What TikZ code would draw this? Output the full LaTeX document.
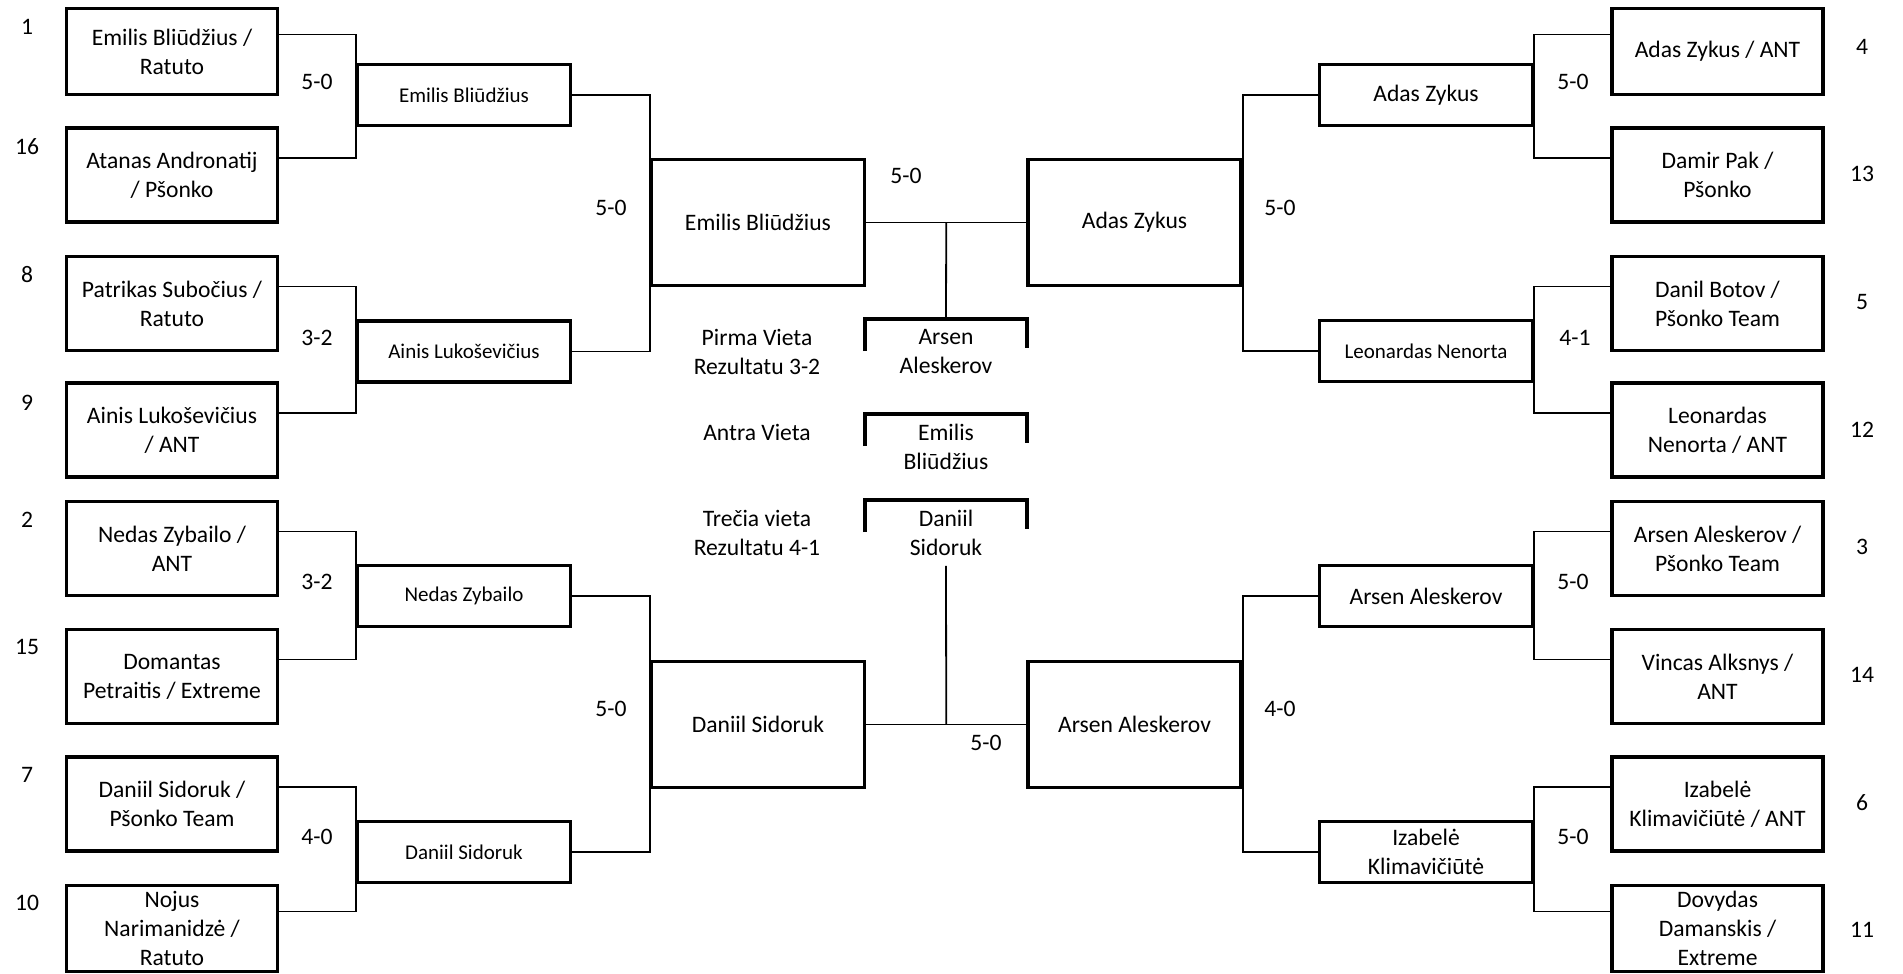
\documentclass[tikz,border=0pt]{standalone}
\usepackage{fontspec}
\setmainfont{Carlito}
\newcommand{\brfont}{\fontsize{11.8}{14.5}\selectfont}
\newcommand{\brsmall}{\fontsize{10.5}{13}\selectfont}

\begin{document}
\begin{tikzpicture}[x=0.5pt, y=-0.5pt, font=\brfont, line width=0.9pt,
	entrant/.style={draw, line width=1.7pt, minimum width=105.5pt, minimum height=47pt, inner sep=0pt, align=center},
	winner/.style={draw, line width=1.7pt, minimum width=106.5pt, minimum height=30.5pt, inner sep=0pt, align=center},
	semi/.style={draw, line width=1.7pt, minimum width=106.5pt, minimum height=63pt, inner sep=0pt, align=center},
	podium/.style={minimum width=80pt, minimum height=32pt, inner sep=0pt, align=center},
	score/.style={inner sep=0pt},
	bracket/.style={line width=1.7pt}]
	\useasboundingbox (0,0) rectangle (1903,974);
	\node[entrant, minimum height=43pt] (L1) at (172,51.5) {Emilis Bliūdžius /\\Ratuto};
	\node[entrant] (L16) at (172,175) {Atanas Andronatij\\/ Pšonko};
	\node[entrant] (L8) at (172,303.5) {Patrikas Subočius /\\Ratuto};
	\node[entrant] (L9) at (172,430) {Ainis Lukoševičius\\/ ANT};
	\node[entrant] (L2) at (172,548.5) {Nedas Zybailo /\\ANT};
	\node[entrant] (L15) at (172,676.5) {Domantas\\Petraitis / Extreme};
	\node[entrant] (L7) at (172,804) {Daniil Sidoruk /\\Pšonko Team};
	\node[entrant, minimum height=43pt] (L10) at (172,928.5) {Nojus\\Narimanidzė /\\Ratuto};
	\node[entrant, minimum height=43pt] (R4) at (1717.5,51.5) {Adas Zykus / ANT};
	\node[entrant] (R13) at (1717.5,175) {Damir Pak /\\Pšonko};
	\node[entrant] (R5) at (1717.5,303.5) {Danil Botov /\\Pšonko Team};
	\node[entrant] (R12) at (1717.5,430) {Leonardas\\Nenorta / ANT};
	\node[entrant] (R3) at (1717.5,548.5) {Arsen Aleskerov /\\Pšonko Team};
	\node[entrant] (R14) at (1717.5,676.5) {Vincas Alksnys /\\ANT};
	\node[entrant] (R6) at (1717.5,804) {Izabelė\\Klimavičiūtė / ANT};
	\node[entrant, minimum height=43pt] (R11) at (1717.5,928.5) {Dovydas\\Damanskis /\\Extreme};

	\node[winner, font=\brsmall] (LA) at (464,95) {Emilis Bliūdžius};
	\node[winner, font=\brsmall] (LB) at (464,351.5) {Ainis Lukoševičius};
	\node[winner, font=\brsmall] (LC) at (464,596) {Nedas Zybailo};
	\node[winner, font=\brsmall] (LD) at (464,852) {Daniil Sidoruk};
	\node[winner] (RA) at (1426,95) {Adas Zykus};
	\node[winner, font=\brsmall] (RB) at (1426,351) {Leonardas Nenorta};
	\node[winner] (RC) at (1426,596) {Arsen Aleskerov};
	\node[winner] (RD) at (1426,852) {Izabelė\\Klimavičiūtė};

	\node[semi] (LS1) at (758,222.5) {Emilis Bliūdžius};
	\node[semi] (LS2) at (758,724.5) {Daniil Sidoruk};
	\node[semi] (RS1) at (1134.5,222.5) {Adas Zykus};
	\node[semi] (RS2) at (1134.5,724.5) {Arsen Aleskerov};

	\node[podium] (P1) at (946,352) {Arsen\\Aleskerov};
	\node[podium] (P2) at (946,447) {Emilis\\Bliūdžius};
	\node[podium] (P3) at (946,533) {Daniil\\Sidoruk};
	\node[align=center] (T1) at (757,351.5) {Pirma Vieta\\Rezultatu 3-2};
	\node (T2) at (757,432) {Antra Vieta};
	\node[align=center] (T3) at (757,533) {Trečia vieta\\Rezultatu 4-1};

	\foreach \a/\b/\w in {L1/L16/LA, L8/L9/LB, L2/L15/LC, L7/L10/LD}
		\draw ([yshift=8.5pt]\a.east) -| (\w.west) |- ([yshift=8.5pt]\b.east);
	\foreach \a/\b/\w in {R4/R13/RA, R5/R12/RB, R3/R14/RC, R6/R11/RD}
		\draw ([yshift=8.5pt]\a.west) -| (\w.east) |- ([yshift=8.5pt]\b.west);
	\draw (LA.east) -| (LS1.west) |- (LB.east);
	\draw (LC.east) -| (LS2.west) |- (LD.east);
	\draw (RA.west) -| (RS1.east) |- (RB.west);
	\draw (RC.west) -| (RS2.east) |- (RD.west);
	\draw (LS1.east) -- coordinate (topmid) (RS1.west);
	\draw (topmid) -- (P1.north);
	\draw (LS2.east) -- coordinate (botmid) (RS2.west);
	\draw (botmid) -- (P3.south);
	\foreach \p in {P1,P2,P3}
		\draw[bracket] ([yshift=-16pt]\p.north west) |- (\p.north) -| ([yshift=-14.5pt]\p.north east);

	\foreach \t/\x/\y [count=\i] in {5-0/317/82, 3-2/317/338, 3-2/317/582, 4-0/317/837,
		5-0/1573/82, 4-1/1575/338, 5-0/1573/582, 5-0/1573/837,
		5-0/611/208, 5-0/611/709, 5-0/1280/208, 4-0/1280/709, 5-0/906/176, 5-0/986/743}
		\node[score] (sc\i) at (\x,\y) {\t};
	\foreach \n/\y in {1/27, 16/147, 8/275, 9/403, 2/520, 15/647, 7/775, 10/903}
		\node[score] (sl\n) at (27,\y) {\n};
	\foreach \n/\y in {4/47, 13/174, 5/302, 12/430, 3/547, 14/675, 6/803, 11/930}
		\node[score] (sr\n) at (1862,\y) {\n};
\end{tikzpicture}
\end{document}
